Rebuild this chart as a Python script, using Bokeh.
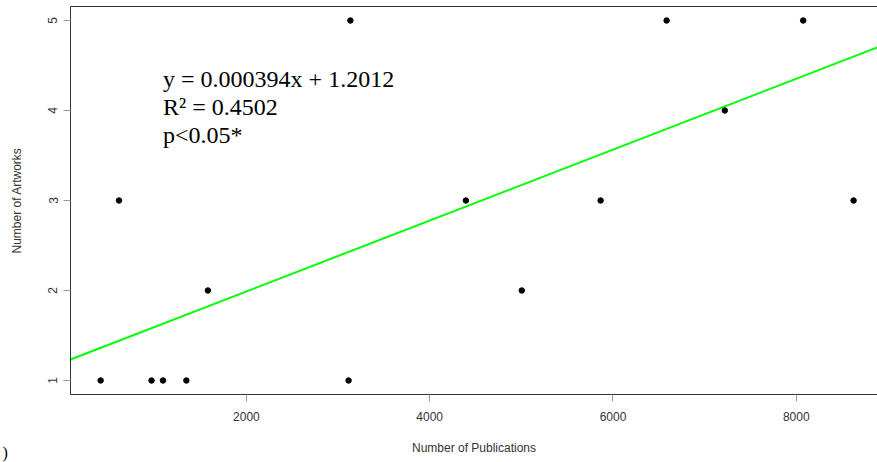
from bokeh.plotting import figure
from bokeh.models import Range1d, FixedTicker, LinearAxis, Label, Title
from bokeh.embed import file_html
from bokeh.resources import INLINE

# Publications vs. artworks per author
publications = [410, 610, 965, 1090, 1345, 1580, 3115, 3135, 4395, 5005, 5865, 6585, 7220, 8075, 8625]
artworks = [1, 3, 1, 1, 1, 2, 1, 5, 3, 2, 3, 5, 4, 5, 3]

x_ticks = [2000, 4000, 6000, 8000]
y_ticks = [1, 2, 3, 4, 5]

# Linear fit reported on the chart
slope = 0.000394
intercept = 1.2012
r_squared = 0.4502
p_note = "p<0.05*"

# Axis limits
x_lo, x_hi = 81, 8886
y_lo, y_hi = 0.8444, 5.1556

AXIS_FONT = "Liberation Sans"
NOTE_FONT = "Liberation Serif"

p = figure(width=877, height=462, x_range=Range1d(x_lo, x_hi), y_range=Range1d(y_lo, y_hi),
           output_backend="svg", toolbar_location=None)
p.min_border_left = 70
p.min_border_right = 0
p.min_border_top = 6
p.min_border_bottom = 68
p.grid.visible = False
p.outline_line_color = None
p.background_fill_color = "white"
p.border_fill_color = "white"

for ax in (p.xaxis[0], p.yaxis[0]):
    ax.major_tick_out = 7
    ax.major_tick_in = 0
    ax.minor_tick_line_color = None
    ax.major_tick_line_color = "#999999"
    ax.axis_line_color = "#333333"
    ax.major_label_text_font = AXIS_FONT
    ax.major_label_text_font_size = "12px"
    ax.major_label_text_color = "#333333"
    ax.axis_label_text_font = AXIS_FONT
    ax.axis_label_text_font_size = "12px"
    ax.axis_label_text_font_style = "normal"
    ax.axis_label_text_color = "#333333"

p.xaxis.ticker = FixedTicker(ticks=x_ticks)
p.xaxis.major_label_standoff = 10
p.xaxis.axis_label = "Number of Publications"
p.xaxis.axis_label_standoff = 17

p.yaxis.ticker = FixedTicker(ticks=y_ticks)
p.yaxis.major_label_orientation = "vertical"
p.yaxis.major_label_standoff = 6
p.yaxis.axis_label = "Number of Artworks"
p.yaxis.axis_label_standoff = 22

# top edge of the box
top = LinearAxis(ticker=FixedTicker(ticks=[]), major_tick_out=0, major_tick_in=0,
                 minor_tick_out=0, minor_tick_in=0, axis_line_color="#333333",
                 major_label_text_font_size="0px")
p.add_layout(top, "above")

# regression line across the whole panel
line_x = [x_lo, x_hi]
line_y = [slope * v + intercept for v in line_x]
p.line(line_x, line_y, line_color="#00FF00", line_width=2)

p.scatter(publications, artworks, size=5.5, color="black", line_color="black")

notes = [f"y = {slope}x + {intercept}", f"R\u00b2 = {r_squared}", p_note]
note_y = [4.345, 4.036, 3.727]
for txt, ny in zip(notes, note_y):
    p.add_layout(Label(x=1091, y=ny, text=txt, text_font=NOTE_FONT, text_font_size="24px",
                       text_color="black", text_baseline="alphabetic", text_align="left"))

# closing bracket of the panel tag in the lower-left corner
tag = Title(text=")", align="left", offset=-68, standoff=-28, vertical_align="top",
            text_font=NOTE_FONT, text_font_size="16px", text_font_style="normal",
            text_color="black")
p.add_layout(tag, "below")

open("out.html", "w").write(file_html(p, INLINE))
